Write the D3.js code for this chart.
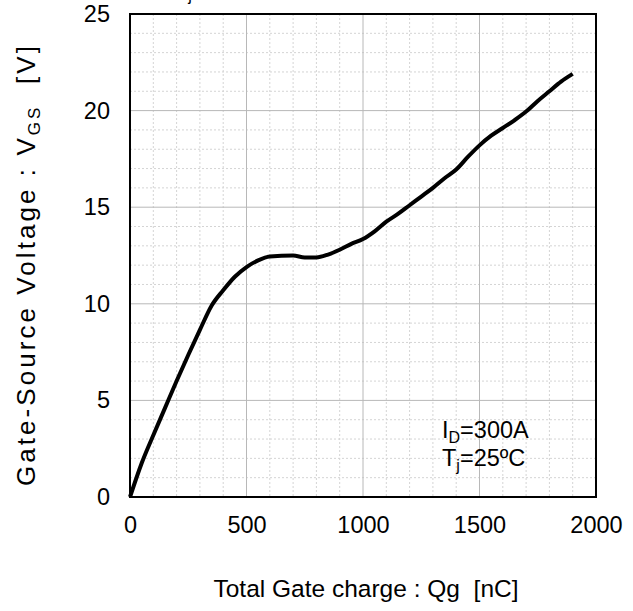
<!DOCTYPE html>
<html><head><meta charset="utf-8">
<script src="https://cdn.jsdelivr.net/npm/d3@7"></script>
<style>
body{margin:0;background:#fff;}
text{font-family:"Liberation Sans",Arial,sans-serif;fill:#000;}
</style></head>
<body><svg id="c" width="633" height="611"></svg>
<script>
const charge = [0,50,100,150,200,250,300,350,400,450,500,550,600,700,750,800,850,900,950,1000,1050,1100,1150,1200,1250,1300,1350,1400,1450,1500,1550,1600,1650,1700,1750,1800,1850,1900];
const vgs = [0,1.75,3.2,4.6,6.0,7.35,8.65,9.9,10.7,11.4,11.9,12.25,12.45,12.5,12.4,12.4,12.55,12.8,13.1,13.35,13.75,14.25,14.65,15.1,15.55,16.0,16.5,16.95,17.6,18.2,18.7,19.1,19.5,19.95,20.5,21.0,21.5,21.9];
const xTicks = [0,500,1000,1500,2000];
const yTicks = [0,5,10,15,20,25];
const xMinor = d3.range(0,2001,100);
const yMinor = d3.range(0,25.01,1);

const svg = d3.select("#c");
const L=130,R=596,T=14,B=497;
const FS=23.5;
const x = d3.scaleLinear().domain([0,2000]).range([L,R]);
const y = d3.scaleLinear().domain([0,25]).range([B,T]);

// minor grid
svg.append("g").selectAll("line").data(xMinor.filter(v=>v%500!==0)).join("line")
 .attr("x1",d=>x(d)).attr("x2",d=>x(d)).attr("y1",T).attr("y2",B)
 .attr("stroke","#d4d4d4").attr("stroke-width",1).attr("stroke-dasharray","2,2");
svg.append("g").selectAll("line").data(yMinor.filter(v=>v%5!==0)).join("line")
 .attr("y1",d=>y(d)).attr("y2",d=>y(d)).attr("x1",L).attr("x2",R)
 .attr("stroke","#d4d4d4").attr("stroke-width",1).attr("stroke-dasharray","2,2");
// major grid
svg.append("g").selectAll("line").data(xTicks).join("line")
 .attr("x1",d=>x(d)).attr("x2",d=>x(d)).attr("y1",T).attr("y2",B)
 .attr("stroke","#b8b8b8").attr("stroke-width",1);
svg.append("g").selectAll("line").data(yTicks).join("line")
 .attr("y1",d=>y(d)).attr("y2",d=>y(d)).attr("x1",L).attr("x2",R)
 .attr("stroke","#b8b8b8").attr("stroke-width",1);

// axes labels via d3 axes
const xa = svg.append("g").attr("transform",`translate(0,${B})`)
 .call(d3.axisBottom(x).tickValues(xTicks).tickSize(0).tickPadding(19).tickFormat(d3.format("d")));
const ya = svg.append("g").attr("transform",`translate(${L},0)`)
 .call(d3.axisLeft(y).tickValues(yTicks).tickSize(0).tickPadding(20).tickFormat(d3.format("d")));
[xa,ya].forEach(g=>{g.select(".domain").remove();g.selectAll("text").attr("font-size",FS).attr("fill","#000").attr("font-family","Liberation Sans, Arial, sans-serif");});

// curve
svg.append("path").datum(charge.map((c,i)=>[c,vgs[i]]))
 .attr("d",d3.line().x(d=>x(d[0])).y(d=>y(d[1])).curve(d3.curveMonotoneX))
 .attr("fill","none").attr("stroke","#000").attr("stroke-width",4).attr("stroke-linejoin","round");

// frame
svg.append("rect").attr("x",L).attr("y",T).attr("width",R-L).attr("height",B-T)
 .attr("fill","none").attr("stroke","#000").attr("stroke-width",2);

// annotation
const a1 = svg.append("text").attr("x",442).attr("y",438).attr("font-size",FS);
a1.append("tspan").text("I");
a1.append("tspan").attr("font-size",16).attr("dy",5).text("D");
a1.append("tspan").attr("dy",-5).text("=300A");
const a2 = svg.append("text").attr("x",442).attr("y",466).attr("font-size",FS);
a2.append("tspan").text("T");
a2.append("tspan").attr("font-size",16).attr("dy",5).text("j");
a2.append("tspan").attr("dy",-5).text("=25ºC");

// cut-off text at the top (as in the reference)
const a3 = svg.append("text").attr("x",174).attr("y",-4).attr("font-size",FS).attr("fill","#000");
a3.append("tspan").text("T");
a3.append("tspan").attr("font-size",16).attr("dy",5).text("j");

// axis titles
svg.append("text").attr("x",366).attr("y",597).attr("text-anchor","middle").attr("font-size",24.5)
 .attr("xml:space","preserve").text("Total Gate charge : Qg  [nC]");
const yt = svg.append("text").attr("transform","translate(35,266) rotate(-90)").attr("text-anchor","middle")
 .attr("font-size",26).attr("xml:space","preserve").attr("textLength",440).attr("lengthAdjust","spacing");
yt.append("tspan").text("Gate-Source Voltage : V");
yt.append("tspan").attr("font-size",17).attr("dy",5).text("GS");
yt.append("tspan").attr("dy",-5).text("  [V]");
</script></body></html>
